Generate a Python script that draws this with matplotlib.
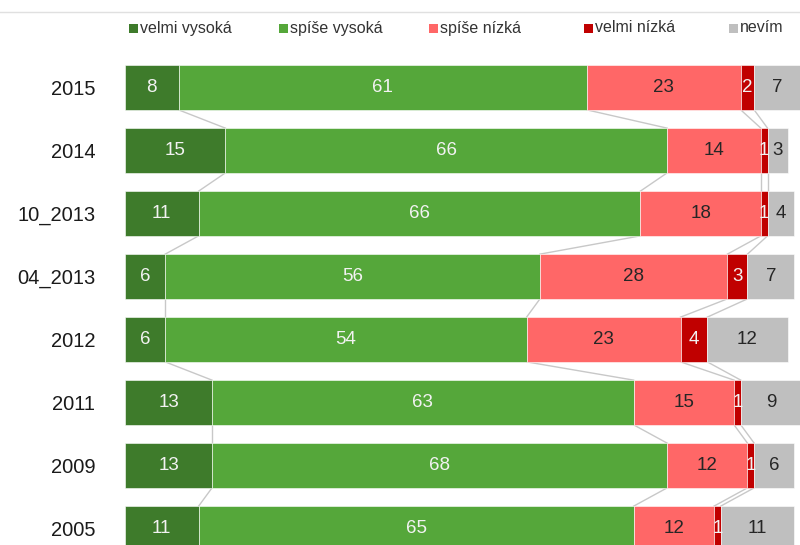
import numpy as np
import matplotlib.pyplot as plt
from matplotlib.patches import Rectangle

plt.rcParams['font.family'] = ['Liberation Sans', 'DejaVu Sans']

# Survey answers per wave, percentages
years = ["2015", "2014", "10_2013", "04_2013", "2012", "2011", "2009", "2005"]
velmi_vysoka = [8, 15, 11, 6, 6, 13, 13, 11]
spise_vysoka = [61, 66, 66, 56, 54, 63, 68, 65]
spise_nizka = [23, 14, 18, 28, 23, 15, 12, 12]
velmi_nizka = [2, 1, 1, 3, 4, 1, 1, 1]
nevim = [7, 3, 4, 7, 12, 9, 6, 11]

series = [velmi_vysoka, spise_vysoka, spise_nizka, velmi_nizka, nevim]
names = ["velmi vysoká", "spíše vysoká", "spíše nízká", "velmi nízká", "nevím"]
colors = ["#3e7b2b", "#55a73a", "#ff6767", "#c00000", "#bfbfbf"]
text_colors = ["#f2f2f2", "#f2f2f2", "#262626", "#f2f2f2", "#262626"]

W, H = 800, 545
fig = plt.figure(figsize=(W / 100, H / 100), dpi=100)
ax = fig.add_axes([125 / W, 0, 676 / W, 533 / H])

y = np.arange(len(years))
bar_h = 0.71
left = np.zeros(len(years))
edges = []
for vals, name, col, tcol in zip(series, names, colors, text_colors):
    vals = np.array(vals, dtype=float)
    ax.barh(y, vals, left=left, height=bar_h, color=col, label=name,
            edgecolor="white", linewidth=0.4, zorder=2)
    for yi, v, l in zip(y, vals, left):
        ax.text(l + v / 2, yi, f"{int(v)}", ha="center", va="center",
                color=tcol, fontsize=13.5, zorder=3)
    left = left + vals
    edges.append(left.copy())

# series lines between neighbouring bars
for e in edges[:-1]:
    for i in range(len(years) - 1):
        ax.plot([e[i], e[i + 1]], [y[i] + bar_h / 2, y[i + 1] - bar_h / 2],
                color="#c8c8c8", lw=1, zorder=1)

ax.set_xlim(0, 101)
ax.set_ylim(7 + 16.5 / 63, -75.5 / 63)
ax.set_yticks(y)
ax.set_yticklabels(years, fontsize=14.5, color="#1a1a1a")
ax.tick_params(axis="y", length=0, pad=21.5)
ax.set_xticks([])
for s in ax.spines.values():
    s.set_visible(False)

# thin frame line on top
fig.add_artist(plt.Line2D([0, 1], [1 - 12 / H, 1 - 12 / H],
                          color="#e0e0e0", lw=1))

# legend row along the top
leg_y = 1 - 28 / H
leg_x = [129, 279, 429, 584, 729]
for px, name, col in zip(leg_x, names, colors):
    x0 = px / W
    fig.add_artist(Rectangle((x0, leg_y - 4.5 / H), 9 / W, 9 / H,
                             transform=fig.transFigure, facecolor=col,
                             edgecolor="none"))
    fig.text(x0 + 11 / W, leg_y - 4.5 / H, name, ha="left", va="baseline",
             fontsize=11.5, color="#333333")

fig.savefig("out.png", dpi=100)
